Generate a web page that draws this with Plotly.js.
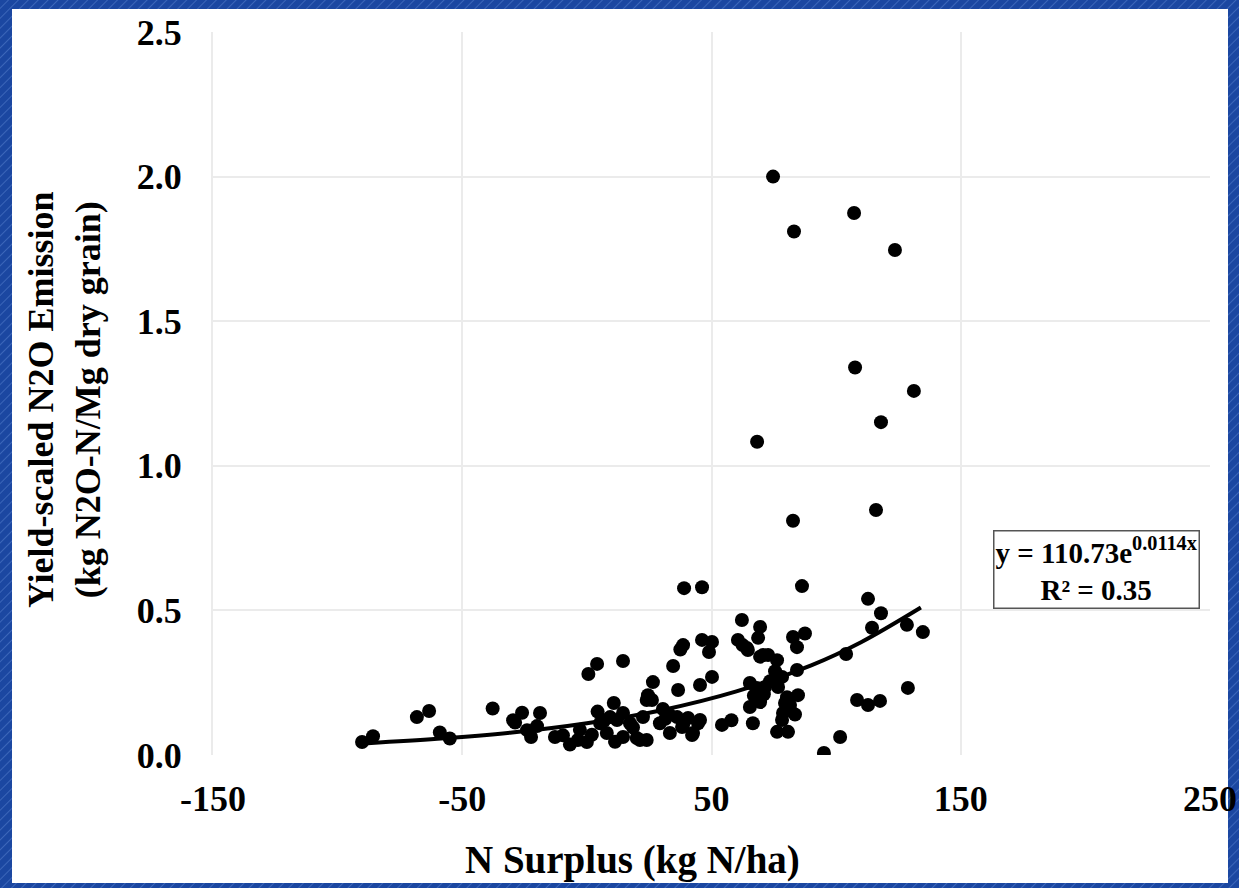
<!DOCTYPE html>
<html>
<head>
<meta charset="utf-8">
<script src="https://cdn.plot.ly/plotly-3.0.1.min.js"></script>
<style>
  html, body { margin: 0; padding: 0; width: 1239px; height: 888px; overflow: hidden;
    background-color: #1b47a1;
    background-image: repeating-linear-gradient(135deg, rgba(255,255,255,0.0) 0px, rgba(255,255,255,0.0) 5px, rgba(120,160,230,0.35) 6px, rgba(255,255,255,0.0) 7px); }
  #panel { position: absolute; left: 12px; top: 9px; width: 1216px; height: 874px; background: #ffffff; }
  #chart { position: absolute; left: 0; top: 0; width: 1239px; height: 888px; }
</style>
</head>
<body>
<div id="panel"></div>
<div id="chart"></div>
<script>
// N surplus (kg N/ha)
const nSurplus = [
  -90.2, -85.8, -68.2, -63.3, -59.0, -55.0, -37.8, -29.6, -28.8, -26.0,
  -24.0, -22.4, -18.8, -12.8, -9.6, -6.8, -3.6, -2.8, 0.0, 0.6,
  2.0, 4.1, 4.3, 5.3, 8.0, 9.3, 10.8, 11.3, 12.1, 14.5,
  14.5, 14.5, 17.3, 20.0, 22.5, 24.0, 24.0, 24.5, 26.5, 26.1,
  29.3, 30.5, 33.3, 34.6, 36.2, 36.6, 37.5, 38.6, 38.6, 39.0,
  40.6, 42.6, 44.6, 45.4, 46.2, 46.2, 49.0, 50.2, 50.2, 54.2,
  60.6, 62.2, 64.6, 65.4, 65.4, 66.6, 68.2, 68.3, 68.7, 69.5,
  69.5, 69.5, 71.5, 72.7, 74.7, 76.3, 76.3, 76.7, 78.3, 78.3,
  78.7, 80.3, 80.7, 81.5, 82.7, 82.7, 83.1, 84.3, 84.3, 84.7,
  86.3, 87.5, 95.1, 101.6, 104.0, 107.2, 107.6, 108.4, 112.8, 112.8,
  114.4, 116.0, 117.6, 118.0, 118.0, 123.6, 128.4, 128.8, 131.2, 134.8,
  45.4, 38.2, 21.3, 42.2, 64.2, 70.7, 81.5, 33.0, 58.0, -20.0,
  67.0, 73.5, 79.5, 83.5, 62.5, 71.0, 75.5, 31.5, 18.5, 7.0
];
// Yield-scaled N2O emission (kg N2O-N/Mg dry grain)
const emission = [
  0.045, 0.065, 0.131, 0.152, 0.078, 0.057, 0.161, 0.120, 0.112, 0.146,
  0.086, 0.062, 0.145, 0.062, 0.068, 0.036, 0.052, 0.087, 0.045, 0.280,
  0.070, 0.315, 0.150, 0.110, 0.076, 0.131, 0.180, 0.046, 0.121, 0.325,
  0.145, 0.062, 0.110, 0.059, 0.131, 0.052, 0.190, 0.207, 0.252, 0.190,
  0.110, 0.159, 0.076, 0.308, 0.131, 0.225, 0.365, 0.380, 0.104, 0.577,
  0.128, 0.076, 0.110, 0.242, 0.580, 0.398, 0.356, 0.391, 0.270, 0.104,
  0.398, 0.467, 0.363, 0.249, 0.166, 0.110, 0.232, 1.083, 0.405, 0.443,
  0.340, 0.183, 0.235, 0.346, 2.000, 0.328, 0.080, 0.235, 0.270, 0.121,
  0.145, 0.200, 0.080, 0.173, 0.408, 0.810, 1.810, 0.373, 0.294, 0.207,
  0.584, 0.420, 0.007, 0.062, 0.349, 1.874, 1.340, 0.190, 0.540, 0.173,
  0.440, 0.847, 0.187, 1.151, 0.490, 1.746, 0.450, 0.232, 1.259, 0.425,
  0.121, 0.097, 0.052, 0.069, 0.370, 0.346, 0.156, 0.140, 0.120, 0.100,
  0.205, 0.255, 0.180, 0.140, 0.380, 0.210, 0.290, 0.125, 0.095, 0.120
];
// Exponential trend line
const trendX = [-88, -60, -30, 0, 30, 60, 90, 110, 134];
const trendY = [0.041, 0.056, 0.078, 0.110, 0.155, 0.220, 0.310, 0.390, 0.510];

const xTicks = [-150, -50, 50, 150, 250];
const yTicks = [0.0, 0.5, 1.0, 1.5, 2.0, 2.5];
const yTickText = ['0.0', '0.5', '1.0', '1.5', '2.0', '2.5'];

const serif = 'Liberation Serif, Times New Roman, serif';

const traces = [
  {
    type: 'scatter', mode: 'markers', x: nSurplus, y: emission,
    marker: { color: '#000000', size: 14 }, hoverinfo: 'x+y', showlegend: false
  },
  {
    type: 'scatter', mode: 'lines', x: trendX, y: trendY,
    line: { color: '#000000', width: 4, shape: 'spline' }, hoverinfo: 'skip', showlegend: false
  }
];

const layout = {
  width: 1239, height: 888,
  paper_bgcolor: 'rgba(0,0,0,0)', plot_bgcolor: '#ffffff',
  margin: { l: 213, r: 29, t: 32, b: 133 },
  font: { family: serif, color: '#000000' },
  showlegend: false,
  xaxis: {
    range: [-150, 250], tickvals: xTicks, ticktext: xTicks.map(String),
    showgrid: true, gridcolor: '#ebebeb', gridwidth: 2, zeroline: false,
    showline: false, ticks: 'outside', ticklen: 12, tickcolor: 'rgba(0,0,0,0)',
    ticklabeloverflow: 'allow',
    tickfont: { family: serif, size: 36, color: '#000', weight: 'bold' }
  },
  yaxis: {
    range: [0, 2.5], tickvals: yTicks, ticktext: yTickText,
    showgrid: true, gridcolor: '#ebebeb', gridwidth: 2, zeroline: false,
    showline: true, linecolor: '#ebebeb', linewidth: 2,
    ticks: 'outside', ticklen: 22, tickcolor: 'rgba(0,0,0,0)',
    tickfont: { family: serif, size: 36, color: '#000', weight: 'bold' }
  },
  annotations: [
    {
      xref: 'paper', yref: 'paper', x: -0.1494, y: 0.491, xanchor: 'center', yanchor: 'middle',
      text: 'Yield-scaled N2O Emission<br>(kg N2O-N/Mg dry grain)', textangle: -90,
      showarrow: false, align: 'center',
      font: { family: serif, size: 36, color: '#000', weight: 'bold' }
    },
    {
      xref: 'paper', yref: 'paper', x: 0.4203, y: -0.1452, xanchor: 'center', yanchor: 'middle',
      text: 'N Surplus (kg N/ha)', showarrow: false,
      font: { family: serif, size: 39, color: '#000', weight: 'bold' }
    },
    {
      xref: 'x', yref: 'y', x: 204.5, y: 0.64, xanchor: 'center', yanchor: 'middle',
      text: 'y = 110.73e<sup>0.0114x</sup><br>R² = 0.35', showarrow: false,
      align: 'center', bordercolor: '#555555', borderwidth: 1.5, borderpad: 1,
      bgcolor: '#ffffff',
      font: { family: serif, size: 29, color: '#000', weight: 'bold' }
    }
  ]
};

Plotly.newPlot('chart', traces, layout, { displayModeBar: false, staticPlot: true });
</script>
</body>
</html>
